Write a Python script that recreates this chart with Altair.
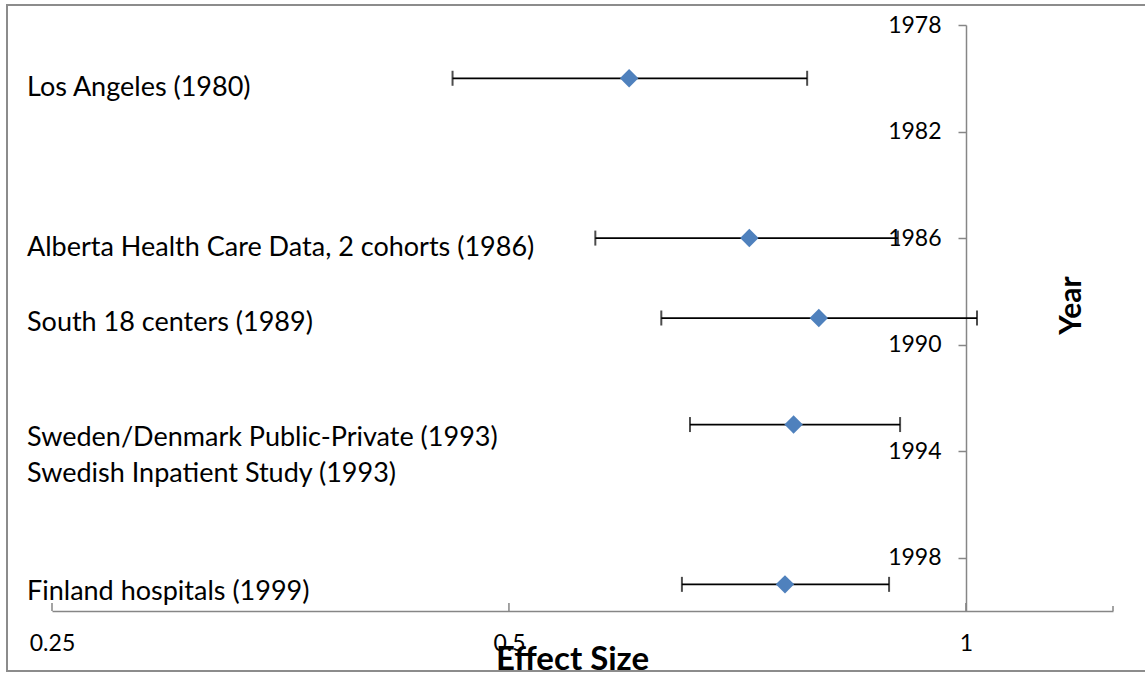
import altair as alt
import pandas as pd

# Studies with their effect size and confidence limits
studies = [
    "Los Angeles (1980)",
    "Alberta Health Care Data, 2 cohorts (1986)",
    "South 18 centers (1989)",
    "Sweden/Denmark Public-Private (1993)",
    "Finland hospitals (1999)",
]
years = [1980, 1986, 1989, 1993, 1999]
effect = [0.60, 0.72, 0.80, 0.77, 0.76]
lower = [0.459, 0.570, 0.630, 0.658, 0.650]
upper = [0.786, 0.902, 1.017, 0.905, 0.890]

# Study labels printed at the left edge (year on the vertical axis)
label_text = [
    "Los Angeles (1980)",
    "Alberta Health Care Data, 2 cohorts (1986)",
    "South 18 centers (1989)",
    "Sweden/Denmark Public-Private (1993)",
    "Swedish Inpatient Study (1993)",
    "Finland hospitals (1999)",
]
label_year = [1980.66, 1986.69, 1989.5, 1993.82, 1995.17, 1999.58]

x_ticks = [0.25, 0.5, 1]
x_end = [1.25]
y_ticks = [1978, 1982, 1986, 1990, 1994, 1998]

FONT = "Lato"
GREY = "#868686"

df = pd.DataFrame(
    {"study": studies, "year": years, "effect": effect, "lower": lower, "upper": upper}
)
labels = pd.DataFrame({"text": label_text, "year": label_year})

xscale = alt.Scale(type="log", base=2, domain=[0.25, 1.25], nice=False)
yscale = alt.Scale(domain=[1978, 2000], reverse=True, nice=False, zero=False)

x_axis = alt.Axis(
    values=x_ticks,
    format="~g",
    ticks=False,
    grid=False,
    domainColor=GREY,
    domainWidth=1.5,
    labelFont=FONT,
    labelFontSize=23,
    labelColor="black",
    labelPadding=21,
    labelFlush=False,
    labelOverlap=False,
    title="Effect Size",
    titleFont=FONT,
    titleFontSize=33,
    titleFontWeight="bold",
    titleColor="black",
    titleX=520,
    titleY=58,
    titleBaseline="alphabetic",
    titleAlign="center",
)

y_axis = alt.Axis(
    orient="left",
    offset=-914,
    values=y_ticks,
    format="d",
    grid=False,
    tickSize=8,
    tickColor=GREY,
    tickWidth=1.5,
    domainColor=GREY,
    domainWidth=1.5,
    labelFont=FONT,
    labelFontSize=23,
    labelColor="black",
    labelPadding=17,
    labelFlush=False,
    labelOverlap=False,
    title="Year",
    titleFont=FONT,
    titleFontSize=30,
    titleFontWeight="bold",
    titleColor="black",
    titleAngle=270,
    titleX=105,
    titleY=280,
    titleAlign="center",
    titleBaseline="middle",
)


def X(field):
    return alt.X(field, scale=xscale, axis=x_axis)


def Y(field):
    return alt.Y(field, scale=yscale, axis=y_axis)


base = alt.Chart(df)

frame = base.mark_rect(filled=False, stroke="#8c8c8c", strokeWidth=2).encode(
    x=alt.value(-45), x2=alt.value(1100), y=alt.value(-20), y2=alt.value(646)
)

# Upward tick marks on the effect-size axis
xticks = alt.Chart(pd.DataFrame({"effect": x_ticks})).mark_rule(
    color=GREY, strokeWidth=1.5
).encode(x=X("effect:Q"), y=alt.value(578), y2=alt.value(586))
end_tick = alt.Chart(pd.DataFrame({"effect": x_end})).mark_rule(
    color=GREY, strokeWidth=1.5
).encode(x=X("effect:Q"), y=alt.value(581), y2=alt.value(586))

bars = base.mark_rule(color="black", strokeWidth=1.75).encode(
    x=X("lower:Q"), x2="upper:Q", y=Y("year:Q")
)
cap_lo = base.mark_tick(orient="vertical", color="black", size=15, thickness=2).encode(
    x=X("lower:Q"), y=Y("year:Q")
)
cap_hi = base.mark_tick(orient="vertical", color="black", size=15, thickness=2).encode(
    x=X("upper:Q"), y=Y("year:Q")
)
points = base.mark_point(
    shape="diamond", filled=True, color="#4F81BD", opacity=1, size=340
).encode(x=X("effect:Q"), y=Y("year:Q"))

text = alt.Chart(labels).mark_text(
    align="left", baseline="alphabetic", font=FONT, fontSize=27, color="black"
).encode(x=alt.value(-25), y=Y("year:Q"), text="text:N")

chart = (
    alt.layer(frame, xticks, end_tick, text, bars, cap_lo, cap_hi, points)
    .properties(
        width=1061,
        height=586,
        background="white",
        autosize=alt.AutoSizeParams(type="none"),
        padding={"left": 52, "top": 25, "right": 32, "bottom": 62},
    )
    .configure_view(stroke="transparent", strokeWidth=0)
)

chart.save("out.html", embed_options={"renderer": "svg", "actions": False})
